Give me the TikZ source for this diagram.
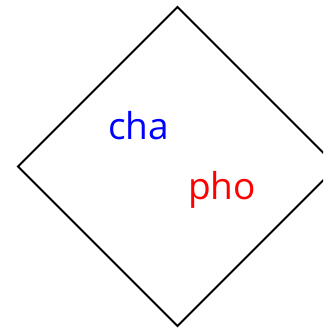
\documentclass[tikz,border=0pt]{standalone}
\usepackage{fontspec}
\setmainfont{Open Sans}
\begin{document}
\begin{tikzpicture}[x=1pt,y=-1pt,
  lbl/.style={anchor=base west,inner sep=0pt,font=\fontsize{37}{37}\selectfont}]
\useasboundingbox (0,0) rectangle (323,328);
\clip (0,0) rectangle (323,328);
\coordinate (T) at (177.5,7);
\coordinate (L) at (18,166.5);
\coordinate (B) at (177.5,326);
\coordinate (R) at (337,166.5);
\draw[line width=1.8pt,line join=miter] (T) -- (R) -- (B) -- (L) -- cycle;
\node[lbl,text=blue] (cha) at (108,139.5) {cha};
\node[lbl,text=red] (pho) at (188,199.5) {pho};
\end{tikzpicture}
\end{document}
